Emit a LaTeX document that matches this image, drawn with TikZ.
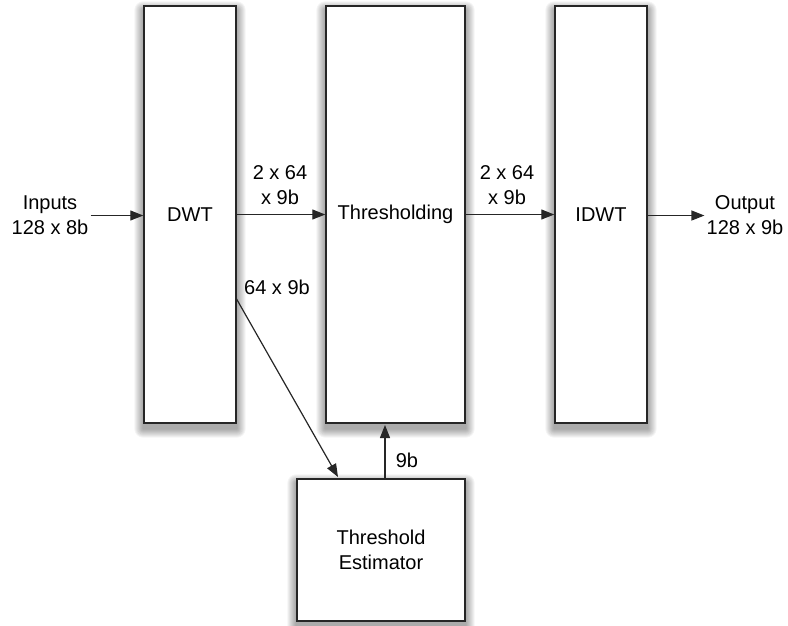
\documentclass[tikz,border=0pt]{standalone}
\usepackage{fontspec}
\setmainfont{Liberation Sans}
\usetikzlibrary{arrows.meta,backgrounds}
\begin{document}
\begin{tikzpicture}[x=1pt,y=-1pt,
  font=\fontsize{20}{25}\selectfont,
  block/.style={draw=black!85, line width=1.4pt, fill=white, inner sep=0pt,
    align=center},
  lbl/.style={align=center, inner sep=2pt},
  arr/.style={draw=black!85, line width=1.2pt, -{Triangle[length=13pt,width=10pt]}},
  shadowlayer/.style={fill=black, opacity=0.045}
]
\useasboundingbox (0,0) rectangle (788,625);

% processing blocks
\node[block, minimum width=92pt, minimum height=417pt] (dwt) at (190,214.5) {DWT};
\node[block, minimum width=139pt, minimum height=417pt] (thr) at (395.5,214.5) {Thresholding};
\node[block, minimum width=92pt, minimum height=417pt] (idwt) at (601,214.5) {IDWT};
\node[block, minimum width=168pt, minimum height=142pt] (est) at (381,550) {Threshold\\Estimator};

% soft drop shadows behind the blocks
\begin{pgfonlayer}{background}
  \foreach \n in {dwt,thr,idwt,est}{
    \foreach \r in {1,...,9}{
      \fill[shadowlayer, rounded corners=\r pt]
        ([xshift=-\r pt, yshift=\r pt - 5pt]\n.north west) rectangle
        ([xshift=\r pt, yshift=-\r pt - 5pt]\n.south east);
    }
  }
\end{pgfonlayer}

% external signals
\node[lbl] (inp) at (50,215.5) {Inputs\\128 x 8b};
\node[lbl] (out) at (745,215.5) {Output\\128 x 9b};

% bus widths
\node[lbl] (w1) at (280,185) {2 x 64\\x 9b};
\node[lbl] (w2) at (507,185) {2 x 64\\x 9b};
\node[lbl] (w3) at (277,287) {64 x 9b};
\node[lbl] (w4) at (407,460) {9b};

% tap points for the estimator path
\coordinate (tapA) at (236,298);
\coordinate (tapB) at (338,477);
\coordinate (estOut) at (385,479);
\coordinate (thrIn) at (385,425);

% data flow
\draw[arr] (inp.east) -- (inp.east -| dwt.west);
\draw[arr] (dwt) -- (thr);
\draw[arr] (thr) -- (idwt);
\draw[arr] (idwt.east |- out.west) -- (out.west);
\draw[arr] (tapA) -- (tapB);
\draw[arr] (estOut) -- (thrIn);
\end{tikzpicture}
\end{document}
